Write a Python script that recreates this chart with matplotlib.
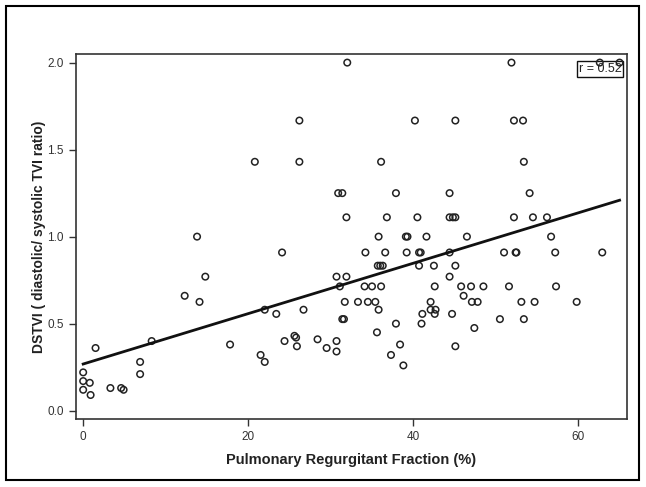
import matplotlib
matplotlib.use("Agg")
import matplotlib.pyplot as plt
from matplotlib.patches import Rectangle
import numpy as np

plt.rcParams['font.family'] = ['Liberation Sans', 'DejaVu Sans']

prf = [0, 0, 0.8, 0, 0.9, 1.5, 3.3, 4.6, 4.9, 6.9, 6.9, 8.3, 12.3, 13.8, 14.1, 14.8, 17.8,
       20.8, 21.5, 22.0, 22.0, 23.4, 24.1, 24.4, 25.6, 25.8, 25.9, 26.2, 26.2, 26.7, 28.4,
       29.5, 30.7, 30.7, 30.7, 30.9, 31.4, 31.1, 31.4, 31.6, 31.7, 31.9, 31.9, 32.0, 33.3,
       34.1, 34.2, 34.5, 35.0, 35.4, 35.6, 35.8, 35.8, 35.7, 36.0, 36.3, 36.1, 36.1, 36.6,
       36.8, 37.3, 37.9, 37.9, 38.4, 38.8, 39.1, 39.3, 39.2, 40.2, 40.5, 40.7, 40.9, 40.7,
       41.0, 41.1, 41.6, 42.1, 42.1, 42.7, 42.5, 42.6, 42.6, 44.4, 44.4, 44.8, 45.1, 44.4,
       44.4, 44.7, 45.1, 45.1, 45.1, 45.8, 46.1, 46.5, 47.0, 47.1, 47.8, 47.4, 48.5, 50.5,
       51.0, 51.6, 51.9, 52.2, 52.2, 52.4, 52.5, 53.1, 53.3, 53.4, 53.4, 54.1, 54.5, 54.7,
       56.2, 56.7, 57.2, 57.3, 59.8, 62.6, 62.9, 65.0]
dstvi = [0.22, 0.17, 0.16, 0.12, 0.09, 0.36, 0.13, 0.13, 0.12, 0.28, 0.21, 0.40, 0.66, 1.00, 0.625, 0.77, 0.38,
         1.43, 0.32, 0.28, 0.58, 0.556, 0.909, 0.40, 0.43, 0.42, 0.37, 1.667, 1.43, 0.58, 0.41,
         0.36, 0.40, 0.34, 0.77, 1.25, 1.25, 0.714, 0.526, 0.526, 0.625, 0.77, 1.111, 2.0, 0.625,
         0.714, 0.909, 0.625, 0.714, 0.625, 0.45, 1.0, 0.58, 0.833, 0.833, 0.833, 0.714, 1.43, 0.909,
         1.111, 0.32, 1.25, 0.5, 0.38, 0.26, 1.0, 1.0, 0.909, 1.667, 1.111, 0.909, 0.909, 0.833,
         0.5, 0.556, 1.0, 0.625, 0.58, 0.58, 0.833, 0.714, 0.556, 1.25, 1.111, 1.111, 1.111, 0.909,
         0.77, 0.556, 1.667, 0.833, 0.37, 0.714, 0.66, 1.0, 0.714, 0.625, 0.625, 0.475, 0.714, 0.526,
         0.909, 0.714, 2.0, 1.667, 1.111, 0.909, 0.909, 0.625, 1.667, 1.43, 0.526, 1.25, 1.111, 0.625,
         1.111, 1.0, 0.909, 0.714, 0.625, 2.0, 0.909, 2.0]

fit_intercept = 0.268
fit_slope = 0.01448
fit_range = [0, 65]
r_value = 0.52

x_ticks = [0, 20, 40, 60]
y_ticks = [0.0, 0.5, 1.0, 1.5, 2.0]

fig = plt.figure(figsize=(6.46, 4.87), dpi=100)
ax = fig.add_axes([0.117, 0.1396, 0.8536, 0.749])

ax.scatter(prf, dstvi, s=22, facecolors='none', edgecolors='#222222', linewidths=1.1, zorder=3)
fx = np.array(fit_range, dtype=float)
ax.plot(fx, fit_intercept + fit_slope * fx, color='#111111', lw=2.0, zorder=4)

ax.set_xlim(-0.92, 65.9)
ax.set_ylim(-0.048, 2.048)
ax.set_xticks(x_ticks)
ax.set_yticks(y_ticks)
ax.set_xticklabels([str(t) for t in x_ticks])
ax.set_yticklabels([f"{t:.1f}" for t in y_ticks])
ax.tick_params(direction='out', length=5, width=1, colors='#333333', labelsize=8.5, labelcolor='#333333')
for s in ax.spines.values():
    s.set_color('#333333')
    s.set_linewidth(1.2)

ax.set_xlabel('Pulmonary Regurgitant Fraction (%)', fontsize=10.5, fontweight='bold', color='#222222', labelpad=7)
ax.set_ylabel('DSTVI ( diastolic/ systolic TVI ratio)', fontsize=10, fontweight='bold', color='#222222', labelpad=1)

ax.text(0.99, 0.975, f"r = {r_value:.2f}", transform=ax.transAxes, ha='right', va='top', fontsize=9,
        color='#222222', bbox=dict(boxstyle='square,pad=0.15', facecolor='white', edgecolor='#111111', lw=1.0),
        zorder=2)

fig.patches.append(Rectangle((6/646, 7/487), 633/646, 474/487, transform=fig.transFigure,
                             fill=False, edgecolor='black', lw=1.5))

fig.savefig('out.png', dpi=100)
